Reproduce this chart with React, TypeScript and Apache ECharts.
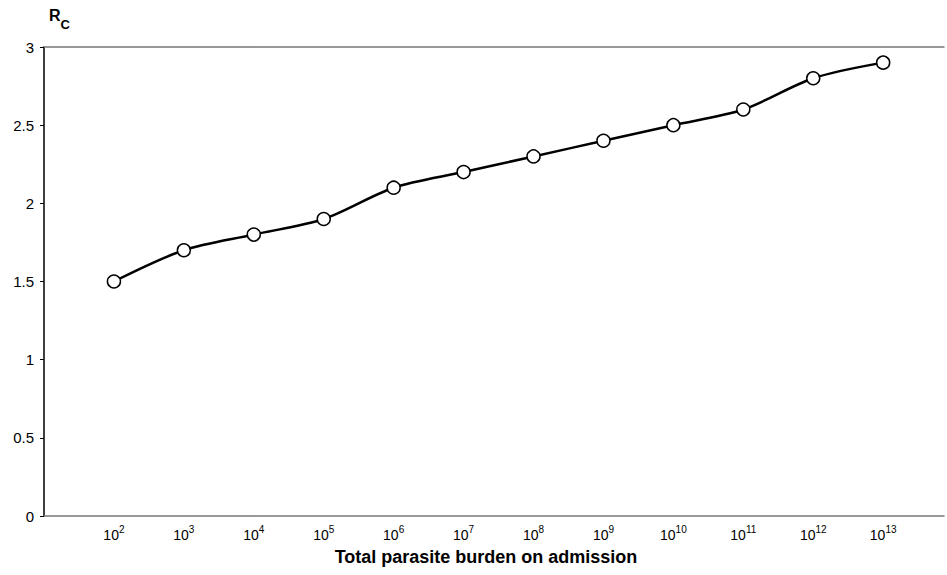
import React, { useEffect, useRef } from "react";
import * as echarts from "echarts";

const exponents = [2, 3, 4, 5, 6, 7, 8, 9, 10, 11, 12, 13];
const rcValues = [1.5, 1.7, 1.8, 1.9, 2.1, 2.2, 2.3, 2.4, 2.5, 2.6, 2.8, 2.9];
const yTicks = [0, 0.5, 1, 1.5, 2, 2.5, 3];

const FONT = "Liberation Sans, Arial, sans-serif";

export default function App() {
  const ref = useRef<HTMLDivElement>(null);
  useEffect(() => {
    if (!ref.current) return;
    const chart = echarts.init(ref.current, undefined, { renderer: "svg" });
    const data = exponents.map((e, i) => [e, rcValues[i]]);
    chart.setOption({
      animation: false,
      backgroundColor: "#fff",
      grid: { left: 44, right: 2, top: 47, bottom: 59, containLabel: false },
      xAxis: [
        {
          type: "value",
          min: 1,
          max: 13.87,
          interval: 1,
          position: "bottom",
          axisLine: { show: true, lineStyle: { color: "#777", width: 1.5 } },
          axisTick: { show: false },
          splitLine: { show: false },
          axisLabel: {
            margin: 8,
            formatter: (v: number) =>
              Number.isInteger(v) && exponents.includes(v)
                ? `{b|10}{s|${v}}`
                : "",
            rich: {
              b: { fontFamily: FONT, fontSize: 14, color: "#000", verticalAlign: "bottom", lineHeight: 18 },
              s: { fontFamily: FONT, fontSize: 10, color: "#000", verticalAlign: "top", lineHeight: 12 },
            },
          },
          name: "Total parasite burden on admission",
          nameLocation: "middle",
          nameGap: 32,
          nameTextStyle: {
            fontFamily: FONT,
            fontSize: 18,
            fontWeight: "bold",
            color: "#000",
            padding: [0, 16, 0, 0],
          },
        },
        {
          type: "value",
          min: 1,
          max: 13.87,
          position: "top",
          axisLine: { show: true, onZero: false, lineStyle: { color: "#777", width: 1.5 } },
          axisTick: { show: false },
          axisLabel: { show: false },
          splitLine: { show: false },
        },
      ],
      yAxis: {
        type: "value",
        min: 0,
        max: 3,
        interval: 0.5,
        axisLine: { show: true, lineStyle: { color: "#000", width: 1.5 } },
        axisTick: { show: true, length: 4, lineStyle: { color: "#000" } },
        splitLine: { show: false },
        axisLabel: {
          margin: 10,
          fontFamily: FONT,
          fontSize: 15,
          color: "#000",
          formatter: (v: number) => (yTicks.includes(v) ? String(v) : ""),
        },
        name: "{r|R}{c|C}",
        nameLocation: "end",
        nameGap: 16,
        nameTextStyle: {
          align: "left",
          padding: [0, 0, 0, 5],
          rich: {
            r: { fontFamily: FONT, fontSize: 16, fontWeight: "bold", color: "#000", verticalAlign: "top", lineHeight: 16 },
            c: { fontFamily: FONT, fontSize: 13, fontWeight: "bold", color: "#000", verticalAlign: "bottom", lineHeight: 24 },
          },
        },
      },
      series: [
        {
          type: "line",
          data,
          smooth: 0.3,
          symbol: "circle",
          symbolSize: 13,
          lineStyle: { color: "#000", width: 2.5 },
          itemStyle: { color: "#fff", borderColor: "#000", borderWidth: 1.5 },
        },
      ],
    });
    return () => chart.dispose();
  }, []);
  return <div ref={ref} style={{ width: 947, height: 575, position: "fixed", left: 0, top: 0 }} />;
}
